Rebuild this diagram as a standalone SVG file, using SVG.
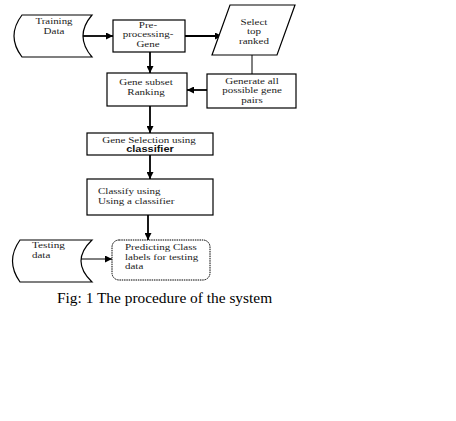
<svg xmlns="http://www.w3.org/2000/svg" width="456" height="421" viewBox="0 0 456 421">
<defs>
<marker id="ah" viewBox="0 0 10 10" refX="10" refY="5" markerWidth="7" markerHeight="7" markerUnits="userSpaceOnUse" orient="auto"><path d="M0,0 L10,5 L0,10 z" fill="#000"/></marker>
<style>
.box{fill:#fff;stroke:#000;stroke-width:1.2}
.t{font-family:"Liberation Serif","Times New Roman",serif;font-size:8.5px;fill:#222;text-anchor:middle}
.tl{font-family:"Liberation Serif","Times New Roman",serif;font-size:8.5px;fill:#222}
.c{stroke:#000;stroke-width:1.8;fill:none}
.thin{stroke:#000;stroke-width:1;fill:none}
</style>
</defs>
<rect width="456" height="421" fill="#fff"/>
<g id="connectors">
<line class="c" x1="82" y1="36" x2="113" y2="36" marker-end="url(#ah)"/>
<line class="c" x1="185" y1="36" x2="222" y2="36" marker-end="url(#ah)"/>
<line class="c" x1="150" y1="52" x2="150" y2="73" marker-end="url(#ah)"/>
<line class="thin" x1="252" y1="55" x2="252" y2="74"/>
<line class="c" x1="207" y1="90" x2="187" y2="90" marker-end="url(#ah)"/>
<line class="c" x1="150" y1="106" x2="150" y2="133" marker-end="url(#ah)"/>
<line class="c" x1="150" y1="155" x2="150" y2="179" marker-end="url(#ah)"/>
<line class="c" x1="148" y1="215" x2="148" y2="240" marker-end="url(#ah)"/>
<line class="thin" x1="78" y1="259" x2="112" y2="259" marker-end="url(#ah)"/>
</g>
<g id="training">
<path class="box" d="M22,15 L92,15 Q74,36 92,57 L22,57 Q6,36 22,15 Z"/>
<text class="t" x="54" y="24" textLength="37" lengthAdjust="spacingAndGlyphs">Training</text>
<text class="t" x="54" y="33.5" textLength="20.8" lengthAdjust="spacingAndGlyphs">Data</text>
</g>
<g id="preprocessing">
<rect class="box" x="113" y="20" width="72" height="32"/>
<text class="t" x="148" y="27.5" textLength="18.3" lengthAdjust="spacingAndGlyphs">Pre-</text>
<text class="t" x="148" y="37" textLength="50.7" lengthAdjust="spacingAndGlyphs">processing-</text>
<text class="t" x="148" y="46.5" textLength="23.2" lengthAdjust="spacingAndGlyphs">Gene</text>
</g>
<g id="select">
<path class="box" d="M230,5 L295,5 L277,55 L212,55 Z"/>
<text class="t" x="254" y="24.5" textLength="26.9" lengthAdjust="spacingAndGlyphs">Select</text>
<text class="t" x="254" y="34" textLength="14.1" lengthAdjust="spacingAndGlyphs">top</text>
<text class="t" x="254" y="43.5" textLength="29.9" lengthAdjust="spacingAndGlyphs">ranked</text>
</g>
<g id="generate">
<rect class="box" x="207" y="74" width="89" height="34"/>
<text class="t" x="252" y="83.5" textLength="53.4" lengthAdjust="spacingAndGlyphs">Generate all</text>
<text class="t" x="252" y="93" textLength="59.6" lengthAdjust="spacingAndGlyphs">possible gene</text>
<text class="t" x="252" y="102.5" textLength="21.4" lengthAdjust="spacingAndGlyphs">pairs</text>
</g>
<g id="ranking">
<rect class="box" x="107" y="73" width="80" height="33"/>
<text class="t" x="146" y="85" textLength="53.5" lengthAdjust="spacingAndGlyphs">Gene subset</text>
<text class="t" x="146" y="94.5" textLength="37.3" lengthAdjust="spacingAndGlyphs">Ranking</text>
</g>
<g id="selection">
<rect class="box" x="87" y="133" width="126" height="22"/>
<text class="t" x="149" y="142.5" textLength="93.5" lengthAdjust="spacingAndGlyphs">Gene Selection using</text>
<text x="150" y="152" textLength="47.7" lengthAdjust="spacingAndGlyphs" style="font-family:'Liberation Sans',Arial,sans-serif;font-size:8.5px;fill:#111;text-anchor:middle;font-weight:bold">classifier</text>
</g>
<g id="classify">
<rect class="box" x="87" y="179" width="126" height="36"/>
<text class="tl" x="98" y="194" textLength="62.6" lengthAdjust="spacingAndGlyphs">Classify using</text>
<text class="tl" x="98" y="203.5" textLength="76.4" lengthAdjust="spacingAndGlyphs">Using a classifier</text>
</g>
<g id="testing">
<path class="box" d="M20,240 L92,240 Q70,261 92,282 L20,282 Q5,261 20,240 Z"/>
<text class="tl" x="32" y="248" textLength="33" lengthAdjust="spacingAndGlyphs">Testing</text>
<text class="tl" x="32" y="257.5" textLength="18.3" lengthAdjust="spacingAndGlyphs">data</text>
</g>
<g id="predicting">
<rect x="112" y="240" width="98" height="40" rx="7" ry="7" style="fill:#fff;stroke:#000;stroke-width:1;stroke-dasharray:1.5,0.8"/>
<text class="tl" x="125" y="250" textLength="71.8" lengthAdjust="spacingAndGlyphs">Predicting Class</text>
<text class="tl" x="125" y="259.5" textLength="73.2" lengthAdjust="spacingAndGlyphs">labels for testing</text>
<text class="tl" x="125" y="269" textLength="18.3" lengthAdjust="spacingAndGlyphs">data</text>
</g>
<text x="57" y="303" style="font-family:'Liberation Serif','Times New Roman',serif;font-size:15.4px;fill:#000">Fig: 1 The procedure of the system</text>
</svg>
